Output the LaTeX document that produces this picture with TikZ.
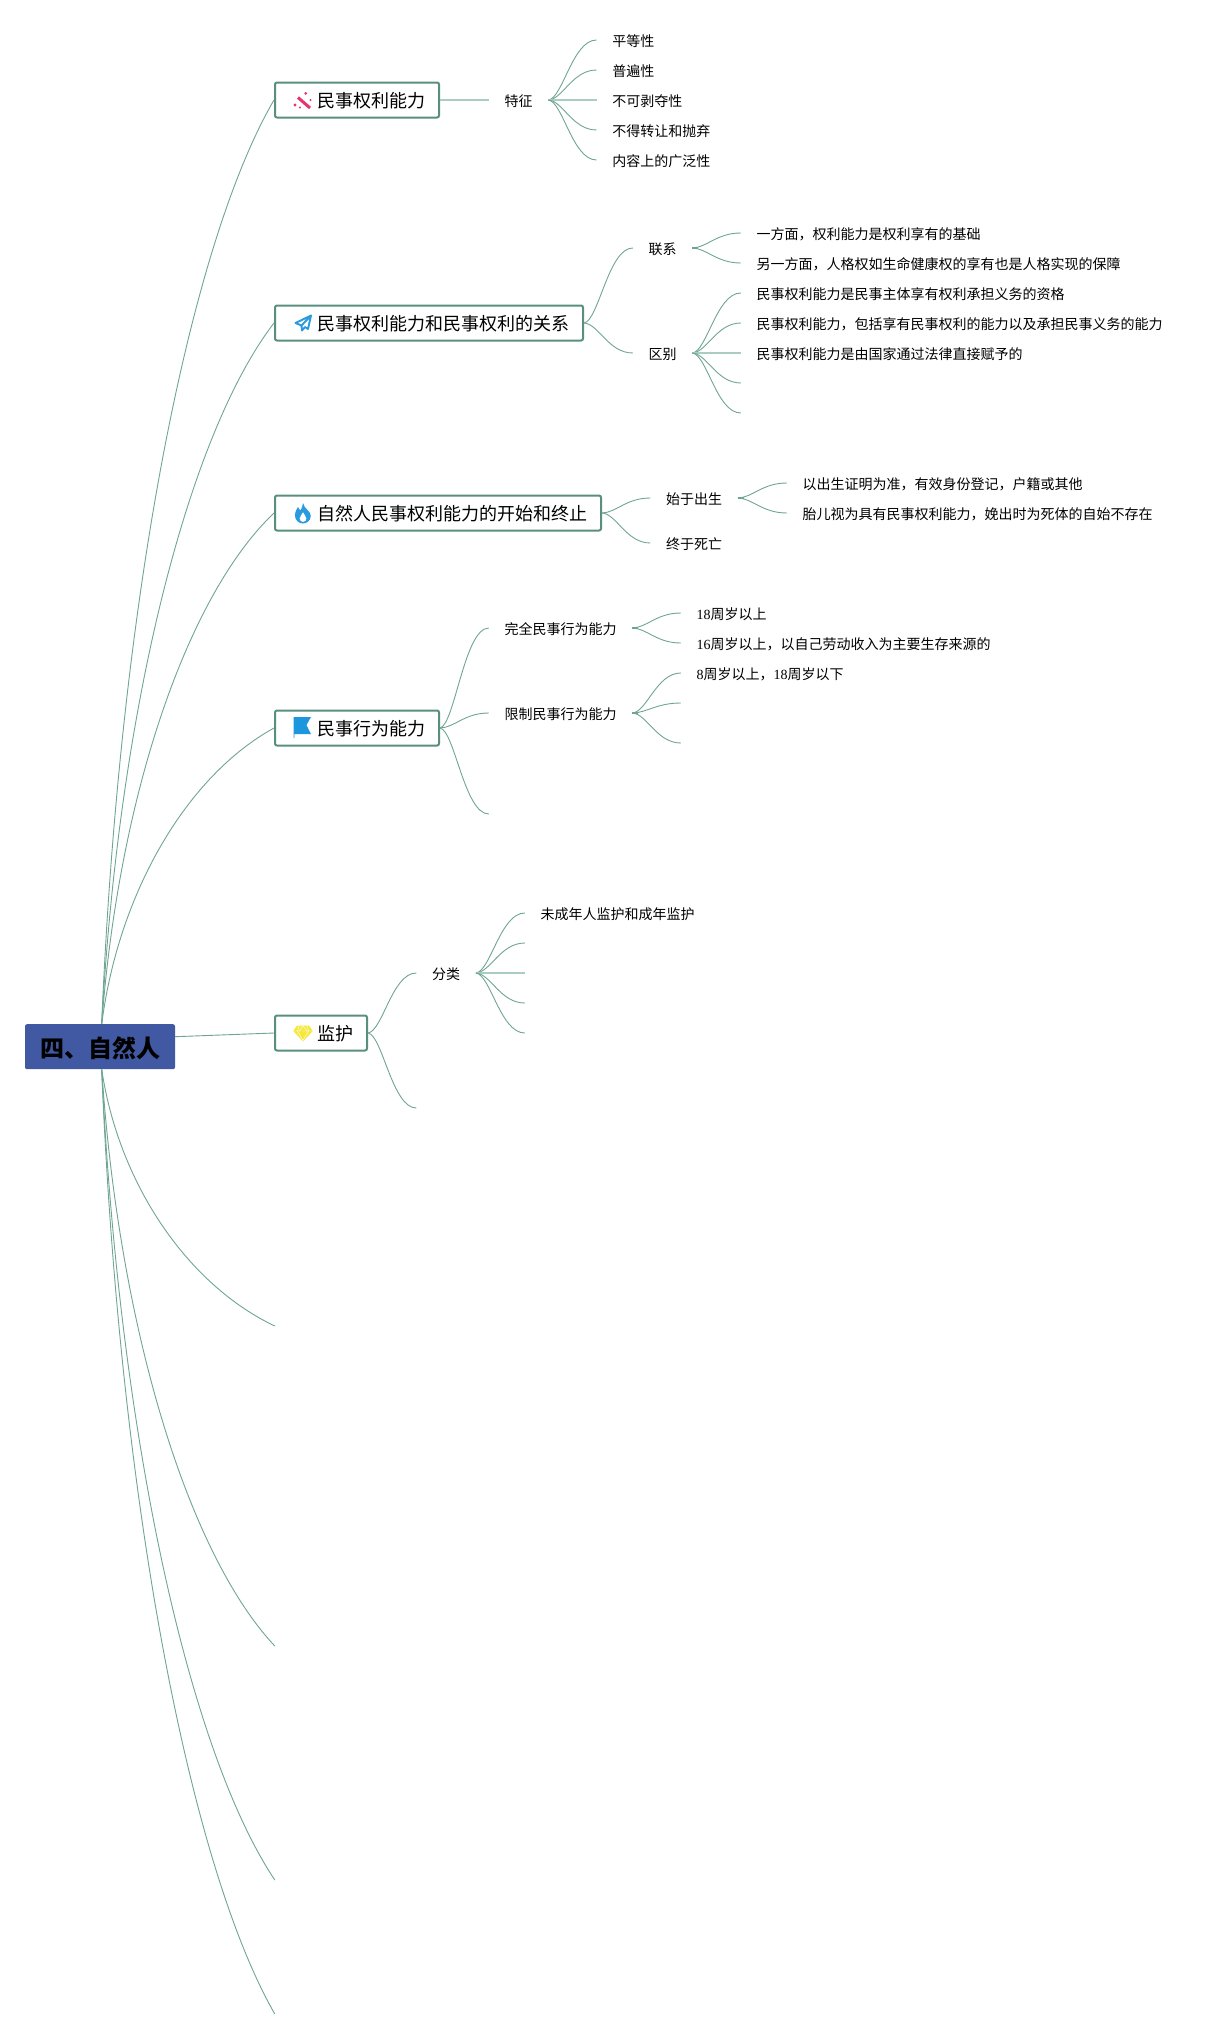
\documentclass[tikz,border=0pt]{standalone}
\usepackage{fontspec}
\usetikzlibrary{calc}
\setmainfont{Noto Sans CJK SC}
\newfontfamily\digitfont{Liberation Serif}
\newcommand\dg[1]{{\digitfont #1}}
\definecolor{linec}{HTML}{70A596}
\definecolor{linelt}{HTML}{A9CDC1}
\definecolor{boxc}{HTML}{5A8F80}
\definecolor{rootc}{HTML}{4158A2}
\definecolor{iconblue}{HTML}{2A9BDE}
\definecolor{flagblue}{HTML}{1C97DD}
\definecolor{iconpink}{HTML}{E8336D}
\definecolor{iconyellow}{HTML}{F5E83C}
\tikzset{
  conline/.style={draw=linec,line width=.9pt},
  flat/.style={draw=linelt,line width=1.5pt},
  stub/.style={draw=linec,line width=1.6pt},
  rootbox/.style={rectangle,fill=rootc,rounded corners=2pt,minimum width=150pt,minimum height=45pt,inner sep=0pt,text height=22pt,text depth=0pt,font=\fontsize{24}{24}\bfseries\selectfont,text=black},
  topicbox/.style={rectangle,draw=boxc,line width=2pt,fill=white,rounded corners=2pt,anchor=west,minimum height=35pt,inner xsep=14pt,inner ysep=0pt,text height=16pt,text depth=.4pt,font=\fontsize{18}{18}\selectfont},
  leaf/.style={anchor=west,inner xsep=15.6pt,inner ysep=0pt,text height=13pt,text depth=.4pt,font=\fontsize{14}{14}\selectfont},
}
\newcommand\conn[2]{\draw[conline] let \p1=(#1),\p2=(#2),\n1={\x2-\x1},\n2={\y2-\y1} in (\p1) .. controls (\x1+.3*\n1,\y1+.03*\n2) and (\x1+.5*\n1,\y2) .. (\p2);}
\newcommand\rootconn[2]{\draw[conline] let \p1=(#1),\p2=(#2),\n1={\x2-\x1},\n2={\y2-\y1} in (\p1) .. controls (\x1+.1*\n1,\y1+.45*\n2) and (\x1+.5*\n1,\y1+.84*\n2) .. (\p2);}
\newcommand\flatconn[2]{\draw[flat] (#1) -- (#2);}
\newcommand\stubon[1]{\draw[stub] (#1) -- ++(6,0);}
\begin{document}
\begin{tikzpicture}[x=1pt,y=-1pt]
\useasboundingbox[fill=white] (0,0) rectangle (1223,2037);
% root and topics
\node[rootbox] (root) at (100,1046.7) {四、自然人};
\coordinate (rootout) at (175,1036.7);
\coordinate (rootup) at ($(root.north)+(1.7,0)$);
\coordinate (rootdn) at ($(root.south)+(1.7,0)$);
\begin{scope}[xshift=-1.2pt]
\node[topicbox] (a) at (275.2,100) {\hspace*{28pt}民事权利能力};
\node[topicbox] (b) at (275.2,323) {\hspace*{28pt}民事权利能力和民事权利的关系};
\node[topicbox] (c) at (275.2,513) {\hspace*{28pt}自然人民事权利能力的开始和终止};
\node[topicbox] (d) at (275.2,728) {\hspace*{28pt}民事行为能力};
\node[topicbox] (e) at (275.2,1033) {\hspace*{28pt}监护};
\coordinate (f) at (276,1326);
\coordinate (g) at (276,1646);
\coordinate (h) at (276,1880);
\coordinate (i) at (276,2014);
% level 2 and leaves
\node[leaf] (a1) at (490,100) {特征};
\node[leaf] (a1a) at (597.7,40) {平等性};
\node[leaf] (a1b) at (597.7,70) {普遍性};
\node[leaf] (a1c) at (597.7,100) {不可剥夺性};
\node[leaf] (a1d) at (597.7,130) {不得转让和抛弃};
\node[leaf] (a1e) at (597.7,160) {内容上的广泛性};
\node[leaf] (b1) at (634,248) {联系};
\node[leaf] (b2) at (634,353) {区别};
\node[leaf] (b1a) at (742,233) {一方面，权利能力是权利享有的基础};
\node[leaf] (b1b) at (742,263) {另一方面，人格权如生命健康权的享有也是人格实现的保障};
\node[leaf] (b2a) at (742,293) {民事权利能力是民事主体享有权利承担义务的资格};
\node[leaf] (b2b) at (742,323) {民事权利能力，包括享有民事权利的能力以及承担民事义务的能力};
\node[leaf] (b2c) at (742,353) {民事权利能力是由国家通过法律直接赋予的};
\coordinate (b2d) at (742,383);
\coordinate (b2e) at (742,413);
\node[leaf] (c1) at (651.5,498) {始于出生};
\node[leaf] (c2) at (651.5,543) {终于死亡};
\node[leaf] (c1a) at (788,483) {以出生证明为准，有效身份登记，户籍或其他};
\node[leaf] (c1b) at (788,513) {胎儿视为具有民事权利能力，娩出时为死体的自始不存在};
\node[leaf] (d1) at (490,628) {完全民事行为能力};
\node[leaf] (d2) at (490,713) {限制民事行为能力};
\coordinate (d3) at (490,814);
\node[leaf] (d1a) at (682,613) {\dg{18}周岁以上};
\node[leaf] (d1b) at (682,643) {\dg{16}周岁以上，以自己劳动收入为主要生存来源的};
\node[leaf] (d2a) at (682,673) {\dg{8}周岁以上，\dg{18}周岁以下};
\coordinate (d2b) at (682,703);
\coordinate (d2c) at (682,743);
\node[leaf] (e1) at (417.5,973) {分类};
\coordinate (e2) at (417.5,1108);
\node[leaf] (e1a) at (526,913) {未成年人监护和成年监护};
\coordinate (e1b) at (526,943);
\coordinate (e1c) at (526,973);
\coordinate (e1d) at (526,1003);
\coordinate (e1e) at (526,1033);
\end{scope}
% connectors
\rootconn{rootup}{a.west}
\rootconn{rootup}{b.west}
\rootconn{rootup}{c.west}
\rootconn{rootup}{d.west}
\draw[conline] (rootout) -- (e.west);
\rootconn{rootdn}{f}
\rootconn{rootdn}{g}
\rootconn{rootdn}{h}
\rootconn{rootdn}{i}
\flatconn{a.east}{a1.west}
\stubon{a1.east}
\conn{a1.east}{a1a.west}
\conn{a1.east}{a1b.west}
\flatconn{a1.east}{a1c.west}
\conn{a1.east}{a1d.west}
\conn{a1.east}{a1e.west}
\conn{b.east}{b1.west}
\conn{b.east}{b2.west}
\stubon{b1.east}
\conn{b1.east}{b1a.west}
\conn{b1.east}{b1b.west}
\stubon{b2.east}
\conn{b2.east}{b2a.west}
\conn{b2.east}{b2b.west}
\flatconn{b2.east}{b2c.west}
\conn{b2.east}{b2d}
\conn{b2.east}{b2e}
\conn{c.east}{c1.west}
\conn{c.east}{c2.west}
\stubon{c1.east}
\conn{c1.east}{c1a.west}
\conn{c1.east}{c1b.west}
\conn{d.east}{d1.west}
\conn{d.east}{d2.west}
\conn{d.east}{d3}
\stubon{d1.east}
\conn{d1.east}{d1a.west}
\conn{d1.east}{d1b.west}
\stubon{d2.east}
\conn{d2.east}{d2a.west}
\conn{d2.east}{d2b}
\conn{d2.east}{d2c}
\conn{e.east}{e1.west}
\conn{e.east}{e2}
\stubon{e1.east}
\conn{e1.east}{e1a.west}
\conn{e1.east}{e1b}
\flatconn{e1.east}{e1c}
\conn{e1.east}{e1d}
\conn{e1.east}{e1e}
% icons
\draw[color=iconpink,line width=3pt] (298,97.5) -- (310,108);
\fill[iconpink] (305.7,93.3) circle (1.5) (310.5,100) circle (1.2) (295,105) circle (1.7) (300,107.5) circle (1.1);
\draw[iconblue,line width=1.9pt,line join=round] (311,315.5) -- (295.5,323) -- (301.5,325.5) -- (302,330.5) -- (305,327) -- (308,329) -- cycle (311,315.5) -- (301.5,325.5);
\fill[iconblue,even odd rule] (303,503) .. controls (304,509) and (311,511) .. (310.8,516) .. controls (310.5,521) and (306.5,523.5) .. (303,523.5) .. controls (298.5,523.5) and (295,520) .. (295,515.5) .. controls (295,511) and (297,509) .. (298,507) .. controls (299,509) and (300,510) .. (300.5,510.5) .. controls (301.5,508) and (303,506) .. (303,503) -- cycle
(303,512) .. controls (304,515) and (306.5,516) .. (306.5,518.5) .. controls (306.5,520.5) and (305,522) .. (303,522) .. controls (301,522) and (299.5,520.5) .. (299.5,518.5) .. controls (299.5,516) and (302,515) .. (303,512) -- cycle;
\fill[flagblue] (293.5,717) -- (311,717) -- (306.5,725) -- (311,734) -- (294.3,734) -- (294.3,738) -- (293.5,738) -- cycle;
\fill[iconyellow] (297,1025.5) -- (309,1025.5) -- (312.7,1031) -- (303,1041.5) -- (293.3,1031) -- cycle;
\draw[white,line width=.35pt] (294,1031) -- (312,1031) (299,1026) -- (297.5,1031) -- (303,1040.5) -- (308.5,1031) -- (307,1026) (303,1026) -- (299,1031) (303,1026) -- (307,1031);
\end{tikzpicture}
\end{document}
